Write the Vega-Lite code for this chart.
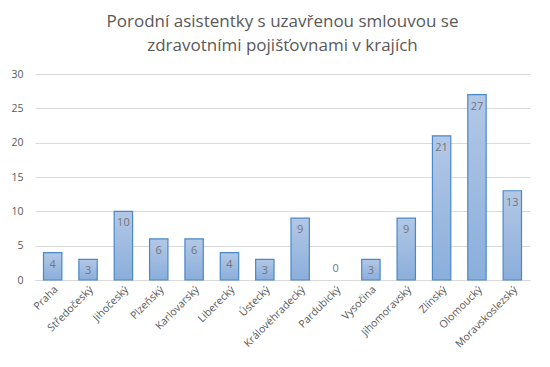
{
  "$schema": "https://vega.github.io/schema/vega-lite/v6.json",
  "autosize": "none",
  "width": 495,
  "height": 206,
  "padding": {"left": 35, "top": 74, "right": 20, "bottom": 87},
  "background": "white",
  "title": {
    "text": ["Porodní asistentky s uzavřenou smlouvou se", "zdravotními pojišťovnami v krajích"],
    "anchor": "middle",
    "font": "Open Sans",
    "fontSize": 17,
    "fontWeight": "normal",
    "color": "#595959",
    "lineHeight": 24,
    "offset": 14
  },
  "data": {
    "values": [
      {"kraj": "Praha", "pocet": 4},
      {"kraj": "Středočeský", "pocet": 3},
      {"kraj": "Jihočeský", "pocet": 10},
      {"kraj": "Plzeňský", "pocet": 6},
      {"kraj": "Karlovarský", "pocet": 6},
      {"kraj": "Liberecký", "pocet": 4},
      {"kraj": "Ústecký", "pocet": 3},
      {"kraj": "Královéhradecký", "pocet": 9},
      {"kraj": "Pardubický", "pocet": 0},
      {"kraj": "Vysočina", "pocet": 3},
      {"kraj": "Jihomoravský", "pocet": 9},
      {"kraj": "Zlínský", "pocet": 21},
      {"kraj": "Olomoucký", "pocet": 27},
      {"kraj": "Moravskoslezský", "pocet": 13}
    ]
  },
  "encoding": {
    "x": {
      "field": "kraj",
      "type": "nominal",
      "sort": null,
      "scale": {"paddingInner": 0.48, "paddingOuter": 0.24},
      "axis": {
        "title": null,
        "labelAngle": -45,
        "labelAlign": "right",
        "labelBaseline": "top",
        "labelFont": "Open Sans",
        "labelFontSize": 10.5,
        "labelColor": "#595959",
        "labelPadding": 4,
        "ticks": false,
        "domainColor": "#d9d9d9",
        "domainWidth": 1,
        "grid": false
      }
    },
    "y": {
      "field": "pocet",
      "type": "quantitative",
      "scale": {"domain": [0, 30], "nice": false},
      "axis": {
        "title": null,
        "values": [0, 5, 10, 15, 20, 25, 30],
        "labelFont": "Open Sans",
        "labelFontSize": 10.5,
        "labelColor": "#595959",
        "labelPadding": 12,
        "ticks": false,
        "domain": false,
        "gridColor": "#d9d9d9",
        "gridWidth": 1
      }
    }
  },
  "layer": [
    {
      "mark": {
        "type": "bar",
        "stroke": "#4a88c8",
        "color": {
          "gradient": "linear",
          "x1": 0, "y1": 0, "x2": 0, "y2": 1,
          "stops": [
            {"offset": 0, "color": "#b3c8e6"},
            {"offset": 1, "color": "#8aaedb"}
          ]
        }
      },
      "encoding": {
        "strokeWidth": {"condition": {"test": "datum.pocet == 0", "value": 0}, "value": 1.2}
      }
    },
    {
      "transform": [{"filter": "datum.pocet > 0"}],
      "mark": {"type": "text", "baseline": "top", "dy": 6, "font": "Open Sans", "fontSize": 11, "color": "#767676"},
      "encoding": {"text": {"field": "pocet", "type": "quantitative"}}
    },
    {
      "transform": [{"filter": "datum.pocet == 0"}],
      "mark": {"type": "text", "baseline": "bottom", "dy": -6, "font": "Open Sans", "fontSize": 11, "color": "#767676"},
      "encoding": {"text": {"field": "pocet", "type": "quantitative"}}
    }
  ],
  "config": {"view": {"stroke": null}}
}
